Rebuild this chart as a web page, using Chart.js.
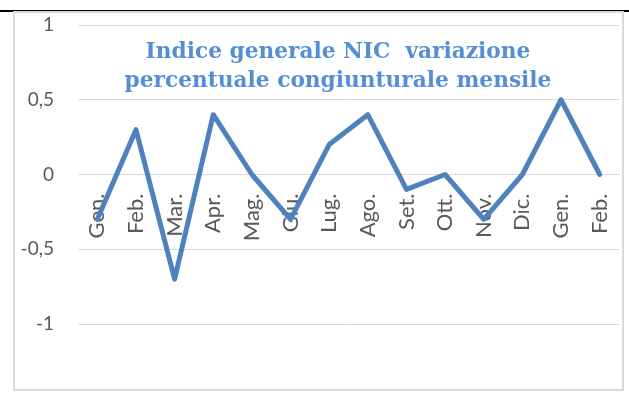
<!DOCTYPE html>
<html>
<head>
<meta charset="utf-8">
<script src="https://cdn.jsdelivr.net/npm/chart.js@4/dist/chart.umd.min.js"></script>
<style>
  html, body { margin: 0; padding: 0; background: #fff; }
  body { width: 629px; height: 403px; position: relative; overflow: hidden; }
  .rule { position: absolute; background: #000; }
  #box {
    position: absolute; left: 13px; top: 11px;
    width: 611px; height: 380px;
    box-sizing: border-box; border: 2px solid #d9d9d9;
  }
  #chart { display: block; }
  #title {
    position: absolute; left: 338px; top: 37px;
    transform: translateX(-50%);
    white-space: nowrap; text-align: center;
    font-family: "DejaVu Serif", serif; font-weight: bold;
    font-size: 21.7px; line-height: 28.5px;
    color: #558ed5;
  }
</style>
</head>
<body>
<div class="rule" style="left:0;top:10px;width:629px;height:1px"></div>
<div class="rule" style="left:0;top:10px;width:13px;height:2px"></div>
<div class="rule" style="left:622px;top:10px;width:7px;height:2px"></div>
<div id="box"><canvas id="chart" width="607" height="376"></canvas></div>
<div id="title">Indice generale NIC&nbsp; variazione<br>percentuale congiunturale mensile</div>
<script>
// NIC index, monthly change (%)
const months = ['Gen.', 'Feb.', 'Mar.', 'Apr.', 'Mag.', 'Giu.', 'Lug.',
                'Ago.', 'Set.', 'Ott.', 'Nov.', 'Dic.', 'Gen.', 'Feb.'];
const variazione = [-0.3, 0.3, -0.7, 0.4, 0.0, -0.3, 0.2,
                    0.4, -0.1, 0.0, -0.3, 0.0, 0.5, 0.0];
const yTicks = [-1, -0.5, 0, 0.5, 1];

function noPad(s) {
  s.paddingLeft = 0; s.paddingRight = 0;
  s.paddingTop = 0; s.paddingBottom = 0;
}

const ctx = document.getElementById('chart').getContext('2d');
new Chart(ctx, {
  type: 'line',
  data: {
    labels: months,
    datasets: [{
      data: variazione,
      borderColor: '#4f81bd',
      borderWidth: 5,
      borderJoinStyle: 'round',
      borderCapStyle: 'round',
      pointRadius: 0,
      tension: 0,
      fill: false
    }]
  },
  options: {
    responsive: false,
    animation: false,
    layout: { padding: { top: 12, right: 3, bottom: 65, left: 0 } },
    plugins: {
      legend: { display: false },
      title: { display: false },
      tooltip: { enabled: false }
    },
    scales: {
      x: {
        position: { y: 0 },
        offset: true,
        grid: { display: false },
        border: { display: true, color: '#d9d9d9', width: 1 },
        ticks: {
          autoSkip: false,
          minRotation: 90,
          maxRotation: 90,
          padding: 11,
          color: '#595959',
          font: { family: 'Lato', size: 22 }
        },
        afterFit: s => { s.height = 0; noPad(s); }
      },
      y: {
        min: -1,
        max: 1,
        afterBuildTicks: s => { s.ticks = yTicks.map(v => ({ value: v })); },
        grid: { color: '#d9d9d9', lineWidth: 1, drawTicks: false },
        border: { display: false },
        ticks: {
          padding: 24,
          color: '#595959',
          font: { family: 'Lato', size: 19 },
          callback: v => String(v).replace('.', ',')
        },
        afterFit: s => { s.width = 63; noPad(s); }
      }
    }
  }
});
</script>
</body>
</html>
